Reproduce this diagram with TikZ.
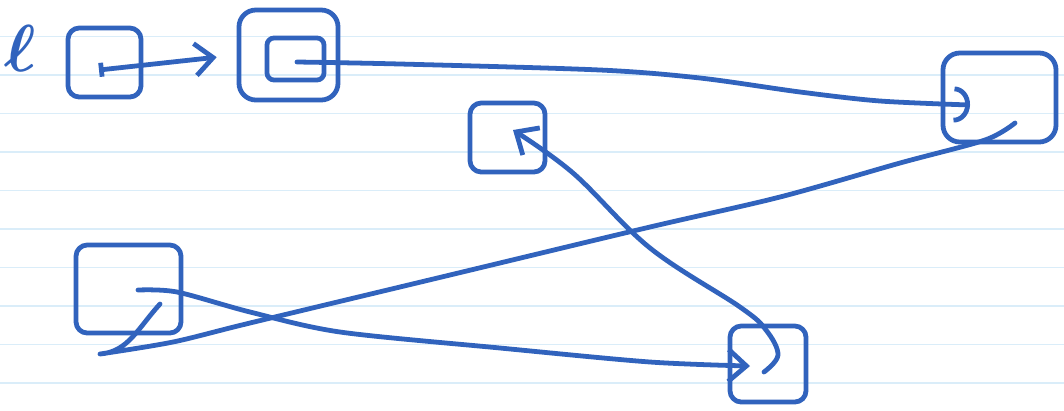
\documentclass[tikz,border=0pt]{standalone}
\usepackage{tikz}
\usetikzlibrary{arrows.meta}
\definecolor{inkBlue}{HTML}{3163BD}
\definecolor{ruleBlue}{HTML}{DAEDF9}
\tikzset{
  ink/.style={draw=inkBlue, line width=3.4pt, line cap=round, line join=round},
  cell/.style={rectangle, rounded corners=8pt, ink, inner sep=0pt},
  ptrS/.style={ink, -{Straight Barb[length=4.5mm, width=8mm]}},
  ptrA/.style={ink, -{Arc Barb[length=4mm, width=9mm]}},
  rule/.style={draw=ruleBlue, line width=1.3pt},
}

\begin{document}
\begin{tikzpicture}[x=0.025cm, y=-0.025cm]
    \useasboundingbox[fill=white] (0,0) rectangle (1064,410);
    \foreach \k in {0,...,9}
      \draw[rule] (0,{36.5+38.5*\k}) -- (1064,{36.5+38.5*\k});

    \node[text=inkBlue, font=\Huge\mathversion{bold}, inner sep=0pt] (head) at (20,48) {\scalebox{1.9}{$\ell$}};

    \node[cell, minimum width=1.825cm, minimum height=1.725cm] (b1) at (104.5,62.5) {};
    \node[cell, minimum width=2.475cm, minimum height=2.25cm, rounded corners=12pt] (b2) at (288.5,55) {};
    \node[cell, minimum width=1.425cm, minimum height=1.05cm, rounded corners=5pt] (b2v) at (295.5,59) {};
    \node[cell, minimum width=2.825cm, minimum height=2.225cm, rounded corners=12pt] (b3) at (999.5,97.5) {};
    \node[cell, minimum width=1.875cm, minimum height=1.725cm] (b4) at (507.5,137.5) {};
    \node[cell, minimum width=2.625cm, minimum height=2.2cm] (b5) at (128.5,289) {};
    \node[cell, minimum width=1.9cm, minimum height=1.9cm] (b6) at (768,364) {};

    \coordinate (p1) at (99,70);
    \coordinate (p2) at (297,62);
    \coordinate (p3) at (1015,123);
    \coordinate (p5) at (138,290);
    \coordinate (p6) at (764,372);
    \coordinate (e3) at (970,105);
    \coordinate (e4) at (513,130);
    \coordinate (e5) at (160,304);
    \coordinate (e6) at (750,366);

    \draw[ink, {Bar[width=3.5mm]}-{Straight Barb[length=4.5mm, width=8mm]}, shorten >=0.5cm] (p1) -- (b2.west);
    \draw[ptrA] plot[smooth, tension=0.5] coordinates {(p2) (400,64) (600,70) (700,78) (800,92) (880,101) (e3)};
    \draw[ink] plot[smooth, tension=0.5] coordinates {(p3) (985,140) (900,163) (780,197) (650,227) (450,275) (250,323) (173,342) (100,354)}
      .. controls (128,352) and (138,328) .. (e5);
    \draw[ptrS] plot[smooth, tension=0.5] coordinates {(p5) (177,292) (250,312) (340,332) (500,348) (650,362) (e6)};
    \draw[ptrS] plot[smooth, tension=0.6] coordinates {(p6) (778,355) (766,330) (740,307) (650,248) (573,173) (e4)};
  \end{tikzpicture}
\end{document}
